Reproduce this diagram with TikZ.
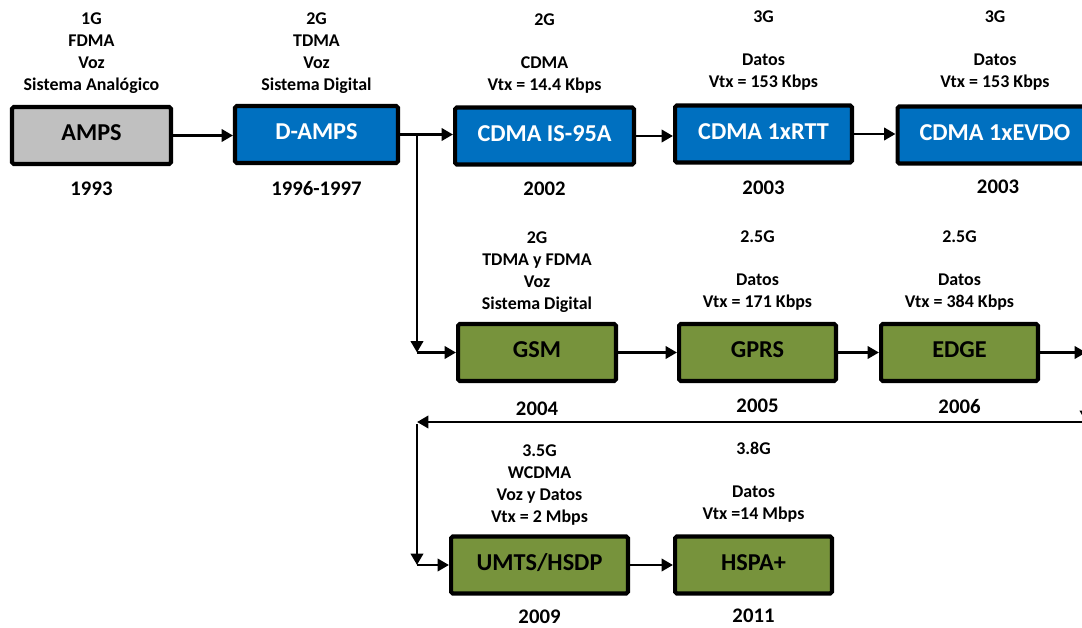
\documentclass[tikz,border=0pt]{standalone}
\usepackage{fontspec}
\setmainfont{Carlito}
\usetikzlibrary{arrows.meta,calc}
\definecolor{cellblue}{HTML}{0070C0}
\definecolor{cellgreen}{HTML}{77933C}
\definecolor{cellgrey}{HTML}{C0C0C0}

\begin{document}
\begin{tikzpicture}[x=0.02cm,y=-0.02cm,
  tech/.style={draw=black,line width=2.3pt,minimum height=1.14cm,inner sep=0pt,
    rounded corners=1pt,font=\fontsize{13.8}{16}\selectfont\bfseries,
    text height=8.9pt,text depth=3pt},
  gen/.style={font=\fontsize{10.2}{12.5}\selectfont\bfseries,align=center,anchor=north,inner sep=0pt},
  yr/.style={font=\fontsize{11.8}{14}\selectfont\bfseries,inner sep=0pt},
  link/.style={line width=1.7pt,-{Triangle[length=6.5pt,width=7pt]}}]
  \useasboundingbox (0,0) rectangle (1082,628);
  \clip (0,0) rectangle (1082,628);

  % First row: AMPS and CDMA line
  \node[tech,fill=cellgrey,minimum width=3.18cm] (amps) at (91.5,135.5) {AMPS};
  \node[tech,fill=cellblue,text=white,minimum width=3.26cm] (damps) at (316.5,134.5) {D-AMPS};
  \node[tech,fill=cellblue,text=white,minimum width=3.58cm] (is95) at (544.5,136) {CDMA IS-95A};
  \node[tech,fill=cellblue,text=white,minimum width=3.54cm] (rtt) at (763.5,134) {CDMA 1xRTT};
  \node[tech,fill=cellblue,text=white,minimum width=3.9cm] (evdo) at (995,135) {CDMA 1xEVDO};

  \node[gen] (ampsinfo) at (91.5,12.5) {1G\\FDMA\\Voz\\Sistema Analógico};
  \node[gen] (dampsinfo) at (316.5,12.5) {2G\\TDMA\\Voz\\Sistema Digital};
  \node[gen] (is95info) at (544.5,13.5) {2G\\[12pt]CDMA\\Vtx = 14.4 Kbps};
  \node[gen] (rttinfo) at (763.5,10.5) {3G\\[12pt]Datos\\Vtx = 153 Kbps};
  \node[gen] (evdoinfo) at (995,10.5) {3G\\[12pt]Datos\\Vtx = 153 Kbps};

  \node[yr] (ampsyr) at (91.5,189) {1993};
  \node[yr] (dampsyr) at (316.5,189) {1996-1997};
  \node[yr] (is95yr) at (544.5,189) {2002};
  \node[yr] (rttyr) at (763.5,188) {2003};
  \node[yr] (evdoyr) at (998,187) {2003};

  % Second row: GSM line
  \node[tech,fill=cellgreen,minimum width=3.16cm] (gsm) at (537,352.5) {GSM};
  \node[tech,fill=cellgreen,minimum width=3.14cm] (gprs) at (757.5,352.5) {GPRS};
  \node[tech,fill=cellgreen,minimum width=3.14cm] (edge) at (959.5,352.5) {EDGE};

  \node[gen] (gsminfo) at (537,231.5) {2G\\TDMA y FDMA\\Voz\\Sistema Digital};
  \node[gen] (gprsinfo) at (757.5,230.5) {2.5G\\[12pt]Datos\\Vtx = 171 Kbps};
  \node[gen] (edgeinfo) at (959.5,230.5) {2.5G\\[12pt]Datos\\Vtx = 384 Kbps};

  \node[yr] (gsmyr) at (537,409) {2004};
  \node[yr] (gprsyr) at (757.5,406) {2005};
  \node[yr] (edgeyr) at (959.5,406) {2006};

  % Third row: UMTS line
  \node[tech,fill=cellgreen,minimum width=3.54cm] (umts) at (539.5,565) {UMTS/HSDP};
  \node[tech,fill=cellgreen,minimum width=3.14cm] (hspa) at (753.5,565) {HSPA+};

  \node[gen] (umtsinfo) at (539.5,444.5) {3.5G\\WCDMA\\Voz y Datos\\Vtx = 2 Mbps};
  \node[gen] (hspainfo) at (753.5,441.5) {3.8G\\[12pt]Datos\\Vtx =14 Mbps};

  \node[yr] (umtsyr) at (539.5,617) {2009};
  \node[yr] (hspayr) at (753.5,616) {2011};

  % Connectors
  \draw[link] (amps) -- (amps -| damps.west);
  \draw[link] (damps) -- (damps -| is95.west);
  \draw[link] (is95) -- (is95 -| rtt.west);
  \draw[link] (rtt) -- (rtt -| evdo.west);
  \draw[link] (gsm) -- (gprs);
  \draw[link] (gprs) -- (edge);
  \draw[link] (umts) -- (hspa);

  % Branch down to GSM
  \coordinate (split) at (417,134.5);
  \coordinate (down1) at (split |- gsm.west);
  \draw[link] (split) -- (down1);
  \draw[link] (down1) -- (gsm);

  % Return path to UMTS
  \coordinate (out1) at (1086,352.5);
  \coordinate (out2) at (1086,422);
  \coordinate (back1) at (417,422);
  \coordinate (down2) at (back1 |- umts.west);
  \draw[link] (edge) -- (out1);
  \draw[link] (out1) -- (out2);
  \draw[link] (out2) -- (back1);
  \draw[link] ($(back1)+(0,2)$) -- (down2);
  \draw[link] (down2) -- (umts);
\end{tikzpicture}
\end{document}
